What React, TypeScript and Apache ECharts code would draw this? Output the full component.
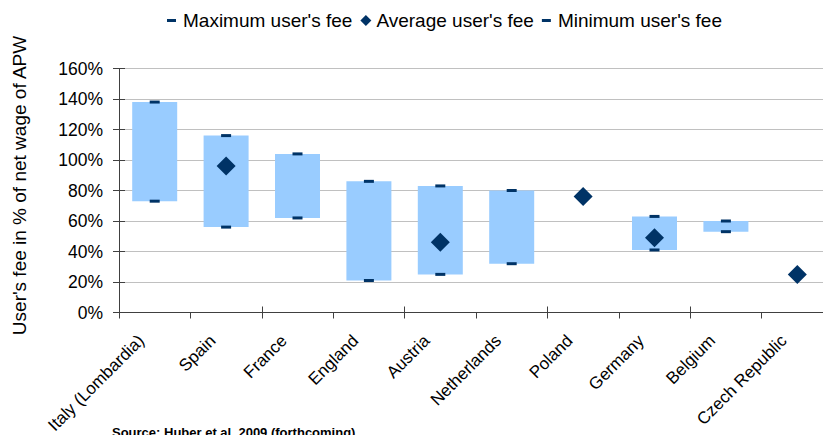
import React, { useEffect, useRef } from "react";
import * as echarts from "echarts";

const categories = [
  "Italy (Lombardia)",
  "Spain",
  "France",
  "England",
  "Austria",
  "Netherlands",
  "Poland",
  "Germany",
  "Belgium",
  "Czech Republic",
];
const maxFee: (number | null)[] = [138, 116, 104, 86, 83, 80, null, 63, 60, null];
const avgFee: (number | null)[] = [null, 96, null, null, 46, null, 76, 49, null, 25];
const minFee: (number | null)[] = [73, 56, 62, 21, 25, 32, null, 41, 53, null];

const yMin = 0;
const yMax = 160;
const yStep = 20;

const seriesNames = ["Maximum user's fee", "Average user's fee", "Minimum user's fee"];
const yAxisTitle = "User's fee in % of net wage of APW";
const sourceNote = "Source: Huber et al. 2009 (forthcoming)";

const FONT = "'Liberation Sans', Arial, sans-serif";
const NAVY = "#003366";
const LIGHT = "#99CCFF";
const AXIS = "#404040";

const dashIcon = "path://M0,0M0,4h9v3h-9zM11,11";
const diamondIcon = "path://M5.5,0L11,5.5L5.5,11L0,5.5z";

const dash = (arr: (number | null)[]) => arr.map((v) => (v == null ? "-" : v));

export default function App() {
  const ref = useRef<HTMLDivElement>(null);

  useEffect(() => {
    if (!ref.current) return;
    const chart = echarts.init(ref.current, null, { renderer: "svg" });
    const range = maxFee.map((v, i) =>
      v == null || minFee[i] == null ? "-" : (v as number) - (minFee[i] as number)
    );
    chart.setOption({
      animation: false,
      textStyle: { fontFamily: FONT },
      legend: {
        left: 162,
        top: 6,
        itemWidth: 11,
        itemHeight: 11,
        itemGap: 8,
        textStyle: { fontSize: 19, color: "#000", fontFamily: FONT },
        data: [
          { name: seriesNames[0], icon: dashIcon },
          { name: seriesNames[1], icon: diamondIcon },
          { name: seriesNames[2], icon: dashIcon },
        ],
      },
      grid: {
        left: 119,
        top: 68.5,
        width: 714,
        height: 244,
        containLabel: false,
        outerBoundsMode: "none",
      },
      xAxis: [
        {
          type: "category",
          data: categories,
          position: "bottom",
          boundaryGap: true,
          axisLine: { show: true, lineStyle: { color: AXIS, width: 1 } },
          axisTick: { show: true, length: 6, lineStyle: { color: AXIS } },
          axisLabel: {
            rotate: 45,
            fontSize: 17,
            color: "#000",
            margin: 12,
            fontFamily: FONT,
            padding: [0, 19, 0, 0],
            interval: 0,
          },
          splitLine: { show: false },
        },
        {
          type: "category",
          data: categories,
          position: "bottom",
          boundaryGap: true,
          axisLine: { show: false },
          axisTick: { show: true, inside: true, length: 6, lineStyle: { color: AXIS } },
          axisLabel: { show: false },
          splitLine: { show: false },
        },
      ],
      yAxis: [
        {
          type: "value",
          min: yMin,
          max: yMax,
          interval: yStep,
          position: "left",
          name: yAxisTitle,
          nameLocation: "middle",
          nameRotate: 90,
          nameGap: 90,
          nameTextStyle: { fontSize: 19, color: "#000", fontFamily: FONT, padding: [0, 0, 0, 10] },
          axisLine: { show: true, lineStyle: { color: AXIS, width: 1 } },
          axisTick: { show: true, length: 6, lineStyle: { color: AXIS } },
          axisLabel: { formatter: "{value}%", fontSize: 17.5, color: "#000", margin: 16, fontFamily: FONT },
          splitLine: { show: true, lineStyle: { color: "#c0c0c0", width: 1.2 } },
        },
        {
          type: "value",
          min: yMin,
          max: yMax,
          interval: yStep,
          position: "left",
          axisLine: { show: false },
          axisTick: { show: true, inside: true, length: 6, lineStyle: { color: AXIS } },
          axisLabel: { show: false },
          splitLine: { show: false },
        },
      ],
      series: [
        {
          name: "base",
          type: "bar",
          stack: "fee",
          barWidth: 45,
          silent: true,
          itemStyle: { color: "transparent" },
          data: dash(minFee),
        },
        {
          name: "range",
          type: "bar",
          stack: "fee",
          barWidth: 45,
          silent: true,
          itemStyle: { color: LIGHT },
          data: range,
        },
        {
          name: seriesNames[0],
          type: "scatter",
          symbol: "rect",
          symbolSize: [10, 3],
          itemStyle: { color: NAVY, opacity: 1 },
          data: dash(maxFee),
        },
        {
          name: seriesNames[1],
          type: "scatter",
          symbol: "diamond",
          symbolSize: [19, 19],
          itemStyle: { color: NAVY, opacity: 1 },
          data: dash(avgFee),
        },
        {
          name: seriesNames[2],
          type: "scatter",
          symbol: "rect",
          symbolSize: [10, 3],
          itemStyle: { color: NAVY, opacity: 1 },
          data: dash(minFee),
        },
      ],
      graphic: [
        {
          type: "text",
          left: 112,
          top: 426,
          style: {
            text: sourceNote,
            fontSize: 13,
            fontWeight: "bold",
            fill: "#000",
            fontFamily: FONT,
          },
        },
      ],
    });
    return () => chart.dispose();
  }, []);

  return (
    <div
      ref={ref}
      style={{ position: "fixed", left: 0, top: 0, width: 823, height: 435, background: "#fff" }}
    />
  );
}
